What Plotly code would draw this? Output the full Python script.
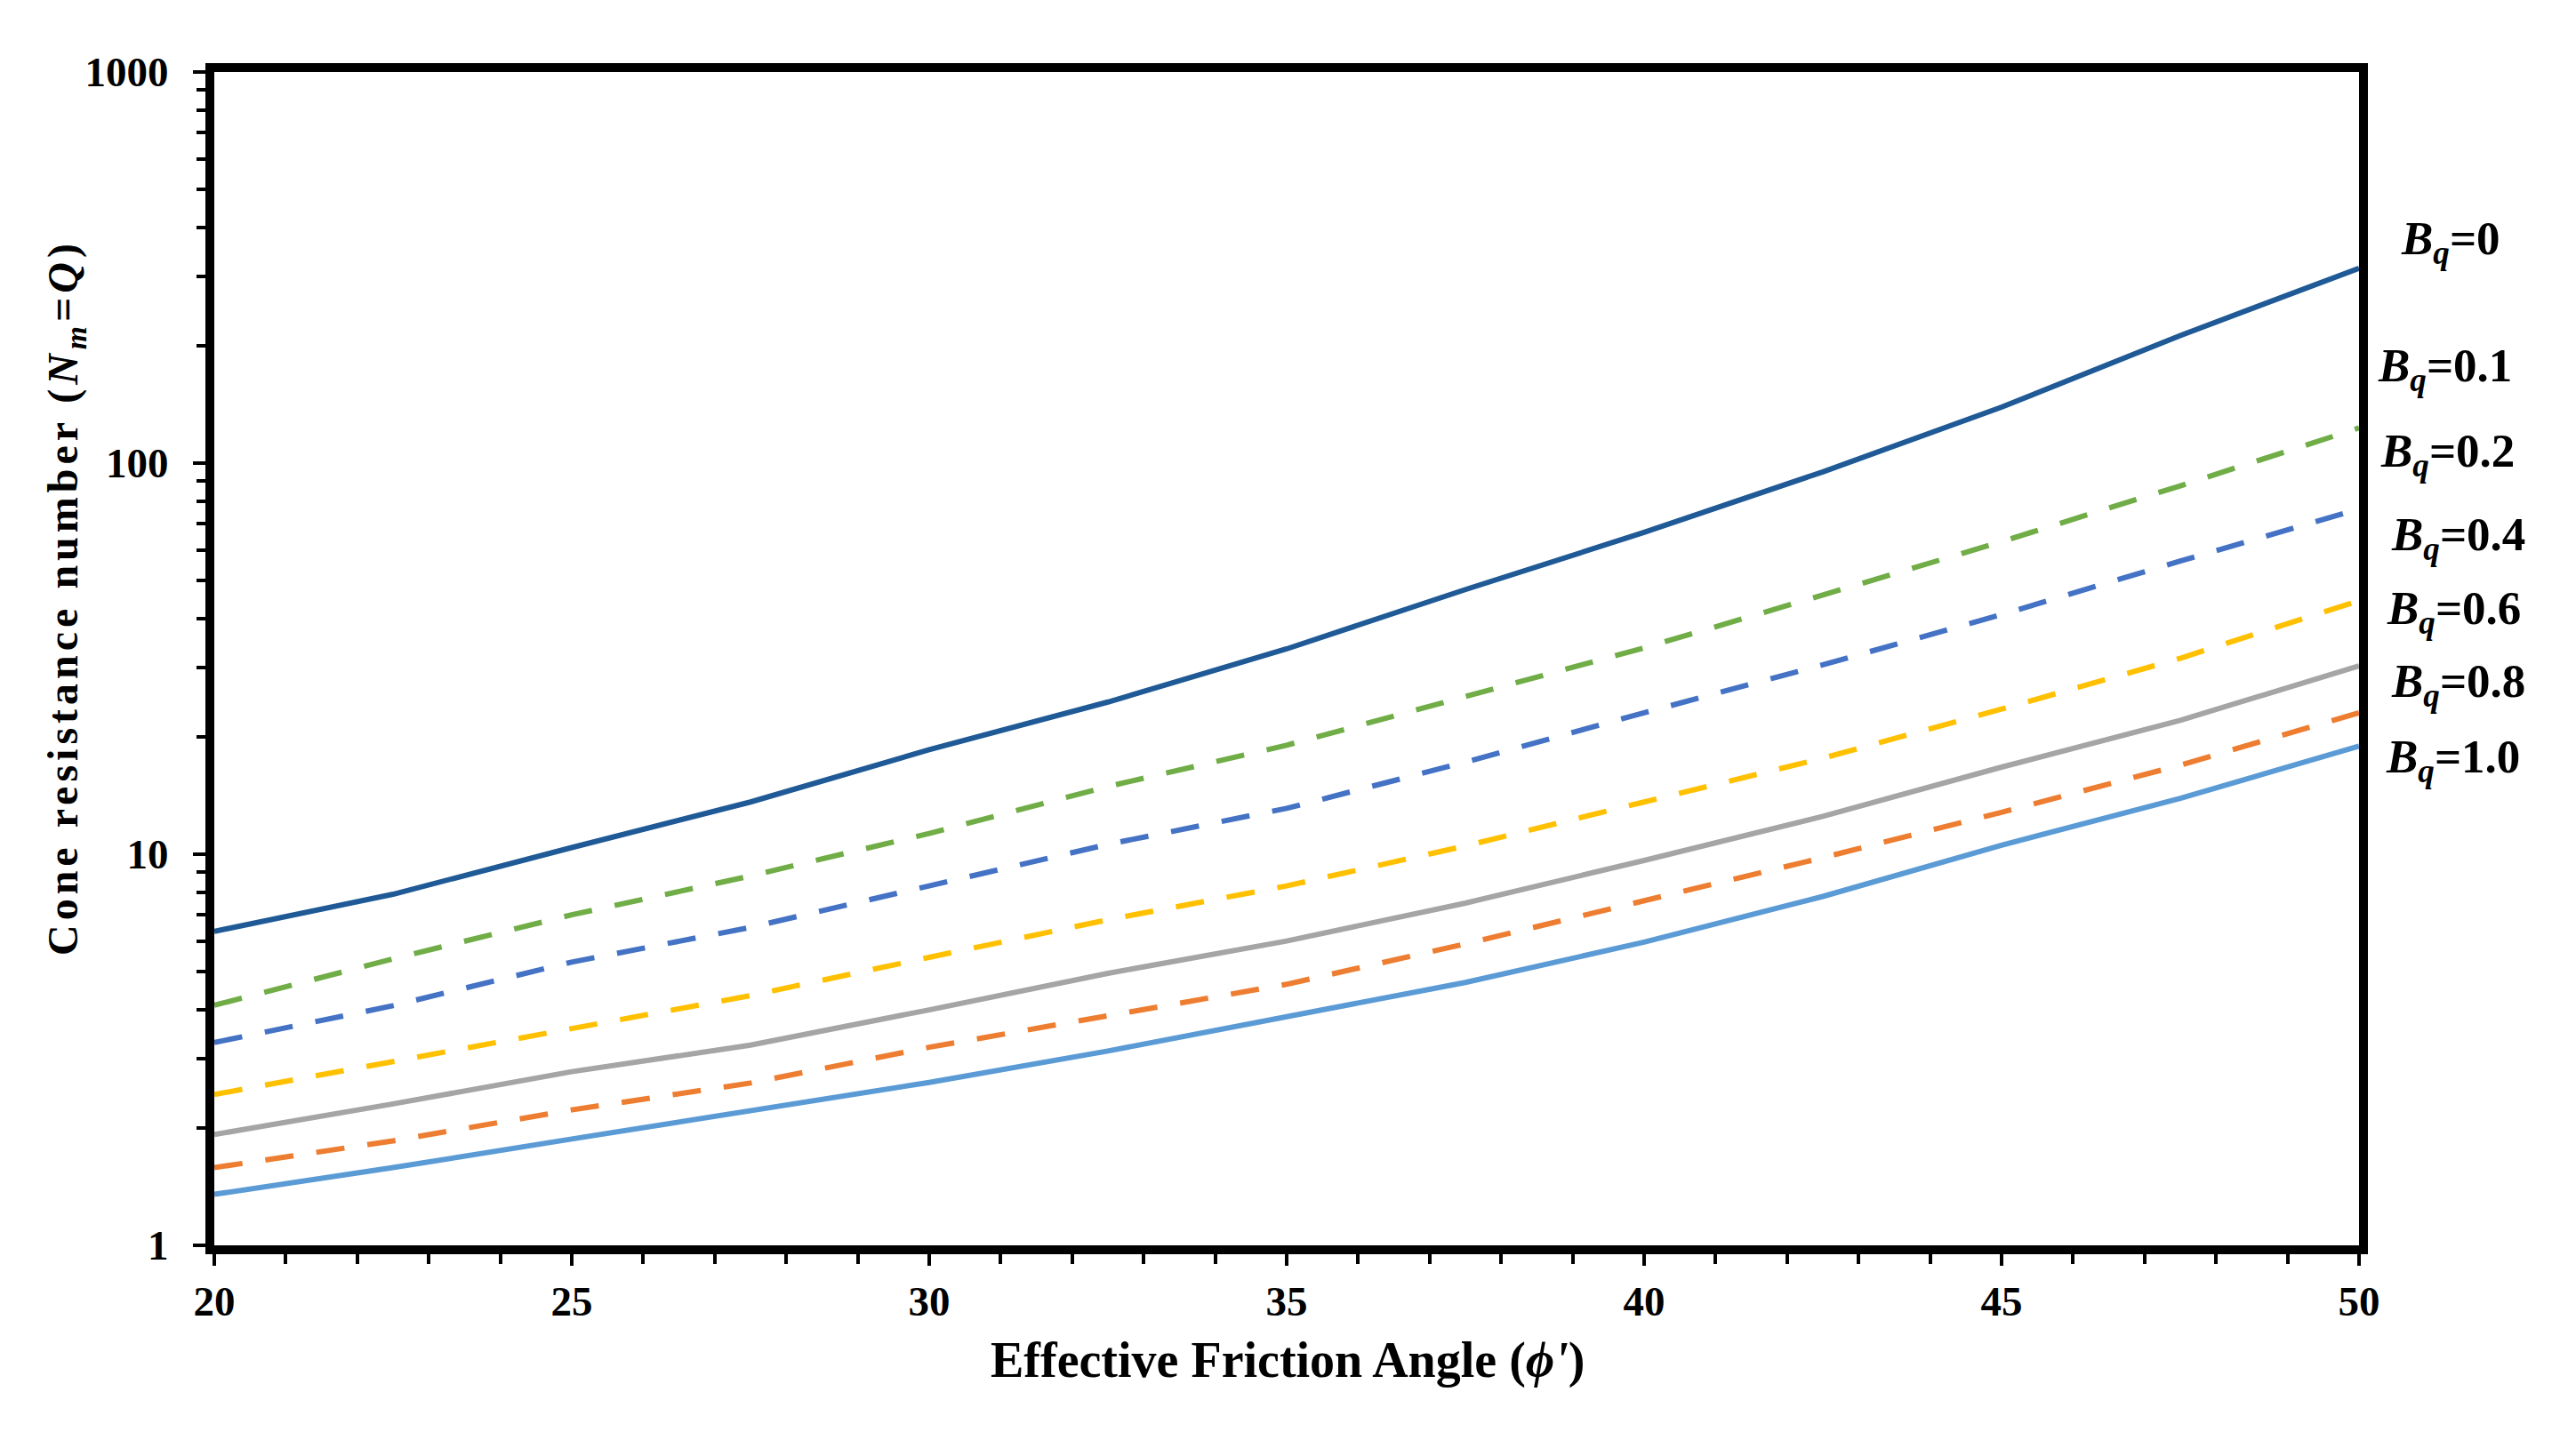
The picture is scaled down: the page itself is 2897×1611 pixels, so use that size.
import plotly.graph_objects as go

# ---- data ----
phi = [20, 22.5, 25, 27.5, 30, 32.5, 35, 37.5, 40, 42.5, 45, 47.5, 50]
bq_0   = [6.35, 7.9, 10.4, 13.6, 18.5, 24.5, 33.5, 47.5, 66.5, 95.0, 139.0, 212.0, 315.0]
bq_01  = [4.11, 5.4, 7.0, 8.8, 11.3, 14.9, 19.0, 25.3, 33.7, 46.0, 63.0, 87.5, 123.0]
bq_02  = [3.30, 4.1, 5.3, 6.5, 8.3, 10.6, 13.1, 17.2, 23.0, 30.5, 41.0, 56.2, 76.3]
bq_04  = [2.43, 2.95, 3.6, 4.35, 5.45, 6.8, 8.3, 10.5, 13.6, 17.6, 23.5, 31.7, 44.5]
bq_06  = [1.92, 2.3, 2.78, 3.25, 4.0, 4.96, 6.0, 7.5, 9.64, 12.5, 16.7, 22.0, 30.3]
bq_08  = [1.58, 1.85, 2.22, 2.6, 3.21, 3.86, 4.65, 5.9, 7.6, 9.8, 12.8, 16.9, 23.0]
bq_10  = [1.35, 1.58, 1.87, 2.21, 2.61, 3.14, 3.85, 4.7, 5.96, 7.8, 10.55, 13.9, 18.9]

series_names = ["Bq=0", "Bq=0.1", "Bq=0.2", "Bq=0.4", "Bq=0.6", "Bq=0.8", "Bq=1.0"]
label_values = ["0", "0.1", "0.2", "0.4", "0.6", "0.8", "1.0"]
x_ticks = [20, 25, 30, 35, 40, 45, 50]
y_ticks = [1, 10, 100, 1000]
y_tick_text = ["1", "10", "100", "1000"]

series = [bq_0, bq_01, bq_02, bq_04, bq_06, bq_08, bq_10]
colors = ["#1F5A96", "#70AD47", "#4472C4", "#FFC000", "#A5A5A5", "#ED7D31", "#5B9BD5"]
dashes = ["solid", "32px,26px", "32px,26px", "32px,26px", "solid", "32px,26px", "solid"]

W, H = 2897, 1611
L, R, T, B = 233, 2645, 73, 1393
FONT = "Liberation Serif"

def px(xp):
    return (xp - L) / (R - L)

def py(yp):
    return (B - yp) / (B - T)

fig = go.Figure()
for name, ys, c, d in zip(series_names, series, colors, dashes):
    fig.add_trace(go.Scatter(x=phi, y=ys, mode="lines", name=name,
                             line=dict(color=c, width=6, dash=d)))

# right-side labels
label_pos = [(2748, 264), (2742, 407), (2744, 503), (2756, 597),
             (2751, 680), (2756, 762), (2750, 847)]
for v, (xp, yp) in zip(label_values, label_pos):
    fig.add_annotation(
        text=f"<b><i>B</i><sub><i>q</i></sub>={v}</b>",
        xref="paper", yref="paper", x=px(xp), y=py(yp),
        xanchor="center", yanchor="middle", showarrow=False,
        font=dict(family=FONT, size=53, color="black"))

# axis titles
fig.add_annotation(
    text="<b>Effective Friction Angle (<i>ϕ'</i>)</b>",
    xref="paper", yref="paper", x=px(1440), y=py(1523),
    xanchor="center", yanchor="middle", showarrow=False,
    font=dict(family=FONT, size=56, color="black"))
fig.add_annotation(
    text='<span style="letter-spacing:5px"><b>Cone resistance number (<i>N<sub>m</sub></i>=<i>Q</i>)</b></span>',
    xref="paper", yref="paper", x=px(66), y=py(664), textangle=-90,
    xanchor="center", yanchor="middle", showarrow=False,
    font=dict(family=FONT, size=48, color="black"))

fig.update_layout(
    width=W, height=H,
    margin=dict(l=L, r=W - R, t=T, b=H - B, autoexpand=False),
    paper_bgcolor="white", plot_bgcolor="white",
    showlegend=False,
    font=dict(family=FONT, color="black"),
)
fig.update_xaxes(
    range=[20, 50], tickvals=x_ticks, ticktext=[str(t) for t in x_ticks],
    showgrid=False, zeroline=False,
    showline=True, linecolor="black", linewidth=10, mirror=True,
    ticks="outside", ticklen=13, tickwidth=4, tickcolor="black",
    ticklabelstandoff=0,
    minor=dict(ticks="outside", dtick=1, ticklen=11, tickwidth=4, tickcolor="black"),
    tickfont=dict(family=FONT, size=47, color="black", weight="bold"),
)
fig.update_yaxes(
    type="log", range=[0, 3], tickvals=y_ticks, ticktext=y_tick_text,
    showgrid=False, zeroline=False,
    showline=True, linecolor="black", linewidth=10, mirror=True,
    ticks="outside", ticklen=14, tickwidth=4, tickcolor="black",
    ticklabelstandoff=18,
    minor=dict(ticks="outside", dtick="D1", ticklen=10, tickwidth=4, tickcolor="black"),
    tickfont=dict(family=FONT, size=47, color="black", weight="bold"),
)

fig.write_html("out.html")
